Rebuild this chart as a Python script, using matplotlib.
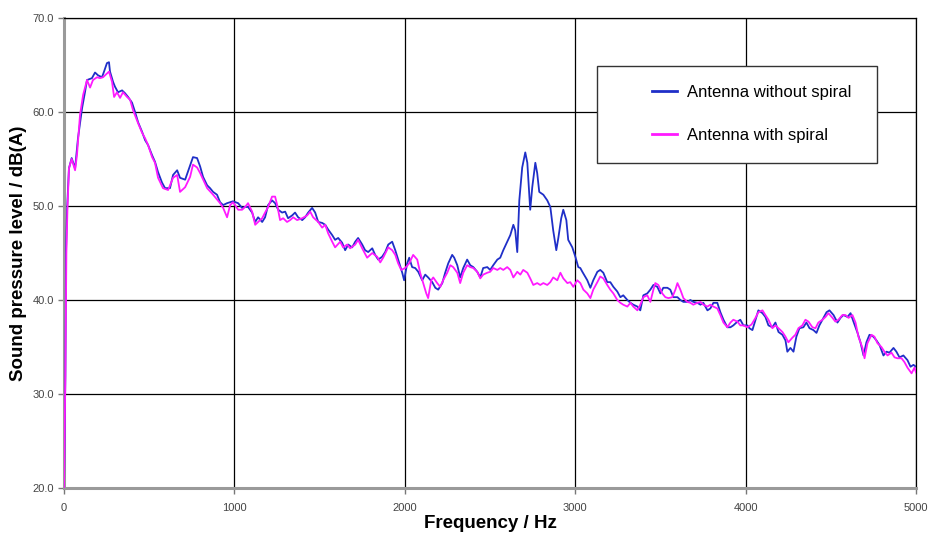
import matplotlib
matplotlib.use("Agg")
import matplotlib.pyplot as plt
from matplotlib.patches import Rectangle
from matplotlib.lines import Line2D

plt.rcParams['font.family'] = ['Liberation Sans', 'DejaVu Sans']

# Measured spectra: frequency (Hz) and A-weighted sound pressure level (dB(A))
freq_without = [
    0, 8, 12, 18, 29, 45, 65, 82, 106, 123, 135, 164, 182, 200, 223, 235, 252, 264, 270, 288,
    299, 317, 341, 358, 376, 399, 417, 435, 458, 476, 493, 517, 534, 552, 575, 593, 622, 640, 664, 681,
    711, 734, 757, 781, 799, 816, 840, 857, 875, 898, 916, 934, 957, 975, 992, 1022, 1045, 1063, 1080, 1104,
    1122, 1139, 1163, 1180, 1198, 1221, 1239, 1257, 1280, 1298, 1315, 1339, 1356, 1374, 1398, 1415, 1433, 1456, 1474, 1492,
    1515, 1533, 1550, 1574, 1591, 1609, 1632, 1650, 1668, 1691, 1709, 1726, 1750, 1767, 1785, 1809, 1826, 1844, 1867, 1885,
    1903, 1926, 1944, 1961, 1985, 1996, 2014, 2026, 2043, 2061, 2079, 2102, 2120, 2137, 2161, 2179, 2196, 2220, 2237, 2255,
    2278, 2290, 2308, 2325, 2343, 2366, 2384, 2402, 2425, 2443, 2460, 2484, 2501, 2519, 2543, 2560, 2578, 2601, 2619, 2637,
    2648, 2660, 2672, 2689, 2707, 2719, 2736, 2748, 2766, 2777, 2789, 2813, 2836, 2854, 2871, 2889, 2901, 2918, 2930, 2948,
    2959, 2983, 3001, 3018, 3030, 3042, 3071, 3089, 3106, 3130, 3147, 3165, 3188, 3206, 3224, 3247, 3265, 3282, 3306, 3324,
    3341, 3365, 3382, 3400, 3423, 3441, 3459, 3482, 3500, 3517, 3541, 3558, 3576, 3600, 3617, 3635, 3658, 3676, 3693, 3717,
    3735, 3752, 3776, 3793, 3811, 3834, 3852, 3870, 3893, 3911, 3928, 3952, 3969, 3987, 4011, 4022, 4040, 4058, 4075, 4099,
    4116, 4134, 4157, 4175, 4193, 4216, 4234, 4245, 4263, 4281, 4298, 4316, 4339, 4357, 4375, 4398, 4416, 4433, 4457, 4475,
    4492, 4516, 4539, 4557, 4574, 4598, 4616, 4633, 4657, 4674, 4692, 4709, 4727, 4750, 4768, 4786, 4809, 4827, 4844, 4868,
    4885, 4903, 4926, 4950, 4968, 4985, 5000,
]
level_without = [
    20.0, 31.9, 45.3, 49.6, 54.0, 55.1, 54.0, 57.2, 60.4, 62.1, 63.4, 63.6, 64.2, 63.9, 63.7, 64.3, 65.2, 65.3, 64.3, 63.2,
    62.7, 62.1, 62.3, 62.0, 61.6, 61.0, 60.0, 58.9, 57.9, 57.0, 56.5, 55.4, 54.7, 53.6, 52.5, 51.9, 51.9, 53.3, 53.8, 53.0,
    52.8, 54.0, 55.2, 55.1, 54.2, 53.1, 52.2, 51.9, 51.5, 51.2, 50.4, 50.1, 50.3, 50.4, 50.5, 50.3, 49.8, 49.9, 49.9, 49.3,
    48.3, 48.8, 48.3, 48.8, 50.1, 50.6, 50.3, 49.6, 49.3, 49.4, 48.7, 49.0, 49.3, 48.8, 48.5, 48.8, 49.3, 49.8, 49.3, 48.3,
    48.2, 48.0, 47.5, 46.9, 46.4, 46.6, 46.1, 45.3, 45.9, 45.6, 46.2, 46.6, 45.9, 45.3, 45.1, 45.5, 44.8, 44.3, 44.6, 45.1,
    45.9, 46.2, 45.3, 44.3, 42.9, 42.1, 43.9, 44.5, 43.5, 43.4, 43.0, 42.1, 42.7, 42.4, 41.9, 41.3, 41.1, 41.8, 42.9, 43.9,
    44.8, 44.5, 43.7, 42.4, 43.4, 44.3, 43.7, 43.5, 43.0, 42.4, 43.4, 43.5, 43.2, 43.7, 44.3, 44.5, 45.3, 46.2, 46.9, 48.0,
    47.4, 45.1, 50.6, 54.1, 55.7, 54.6, 49.6, 52.0, 54.6, 53.5, 51.5, 51.2, 50.6, 49.9, 47.4, 45.3, 46.6, 48.7, 49.6, 48.5,
    46.4, 45.6, 44.6, 43.5, 43.4, 43.0, 42.1, 41.3, 42.1, 43.0, 43.2, 42.9, 41.9, 41.9, 41.4, 40.9, 40.3, 40.5, 40.0, 39.7,
    39.5, 39.3, 38.9, 40.5, 40.7, 41.1, 41.6, 41.4, 40.7, 41.3, 41.3, 41.1, 40.3, 40.3, 40.0, 39.8, 39.8, 40.0, 39.8, 39.7,
    39.5, 39.7, 38.9, 39.1, 39.7, 39.7, 38.7, 37.9, 37.1, 37.1, 37.3, 37.7, 37.9, 37.3, 37.3, 37.0, 36.8, 37.9, 38.9, 38.6,
    38.2, 37.3, 37.1, 37.6, 36.6, 36.3, 35.7, 34.5, 34.9, 34.5, 36.1, 37.0, 37.1, 37.6, 37.0, 36.8, 36.5, 37.3, 38.1, 38.7,
    38.9, 38.4, 37.6, 38.1, 38.4, 38.2, 38.6, 37.7, 36.5, 35.5, 34.1, 35.5, 36.3, 36.1, 35.7, 35.2, 34.1, 34.5, 34.4, 34.9,
    34.5, 33.9, 34.1, 33.6, 32.9, 33.1, 32.9,
]

freq_with = [
    0, 8, 14, 20, 29, 45, 65, 76, 94, 112, 135, 153, 170, 194, 211, 229, 252, 264, 282, 294,
    311, 329, 346, 370, 388, 405, 435, 458, 476, 493, 517, 534, 552, 581, 611, 640, 664, 681, 711, 740,
    757, 781, 799, 840, 875, 916, 934, 957, 975, 992, 1004, 1022, 1045, 1063, 1080, 1104, 1122, 1139, 1163, 1180,
    1198, 1221, 1239, 1251, 1268, 1286, 1309, 1327, 1345, 1368, 1398, 1427, 1445, 1462, 1492, 1515, 1533, 1550, 1574, 1591,
    1621, 1638, 1662, 1679, 1709, 1726, 1750, 1779, 1809, 1838, 1856, 1873, 1903, 1926, 1944, 1961, 1979, 2002, 2026, 2049,
    2073, 2090, 2108, 2126, 2137, 2155, 2167, 2190, 2208, 2225, 2249, 2267, 2284, 2308, 2325, 2343, 2366, 2384, 2402, 2425,
    2443, 2460, 2484, 2501, 2519, 2543, 2560, 2578, 2601, 2619, 2637, 2660, 2678, 2695, 2719, 2736, 2754, 2777, 2795, 2813,
    2836, 2854, 2871, 2895, 2913, 2930, 2954, 2971, 2989, 3012, 3030, 3048, 3071, 3089, 3106, 3130, 3147, 3165, 3188, 3206,
    3224, 3247, 3265, 3282, 3306, 3324, 3341, 3365, 3382, 3400, 3423, 3441, 3459, 3470, 3488, 3511, 3529, 3547, 3570, 3588,
    3600, 3617, 3635, 3658, 3676, 3693, 3717, 3735, 3752, 3776, 3793, 3811, 3834, 3852, 3870, 3893, 3911, 3928, 3952, 3969,
    3987, 4011, 4035, 4058, 4075, 4099, 4116, 4134, 4157, 4175, 4193, 4216, 4234, 4251, 4275, 4292, 4310, 4333, 4351, 4369,
    4392, 4410, 4427, 4451, 4469, 4486, 4510, 4527, 4545, 4568, 4586, 4604, 4627, 4645, 4662, 4686, 4698, 4715, 4739, 4756,
    4774, 4797, 4815, 4833, 4856, 4874, 4891, 4915, 4932, 4950, 4974, 4991, 5000,
]
level_with = [
    20.0, 32.0, 45.0, 49.5, 54.0, 55.0, 53.8, 55.4, 59.7, 61.8, 63.4, 62.6, 63.4, 63.7, 63.6, 63.7, 64.1, 64.3, 63.2, 61.6,
    62.1, 61.5, 62.1, 61.6, 61.3, 60.2, 58.8, 57.8, 57.2, 56.5, 55.2, 54.6, 53.0, 51.9, 51.7, 53.0, 53.3, 51.5, 52.0, 53.1,
    54.4, 54.1, 53.5, 51.9, 51.2, 50.3, 49.8, 48.8, 50.1, 50.4, 50.1, 49.6, 49.6, 49.9, 50.3, 49.4, 48.0, 48.3, 48.7, 49.3,
    49.9, 51.0, 51.0, 50.1, 48.5, 48.7, 48.3, 48.5, 48.8, 48.5, 48.7, 49.0, 49.4, 48.8, 48.3, 47.7, 48.0, 47.1, 46.2, 45.6,
    46.2, 45.6, 45.9, 45.5, 45.9, 46.4, 45.5, 44.5, 45.0, 44.6, 44.0, 44.5, 45.6, 45.3, 44.8, 43.9, 43.2, 43.4, 43.9, 44.8,
    44.3, 42.9, 41.8, 40.7, 40.2, 42.1, 42.4, 41.8, 41.4, 42.1, 42.9, 43.7, 43.5, 42.9, 41.8, 42.9, 43.7, 43.5, 43.4, 43.0,
    42.3, 42.7, 42.9, 43.0, 43.4, 43.2, 43.4, 43.2, 43.5, 43.2, 42.4, 43.0, 42.7, 43.2, 42.9, 42.3, 41.6, 41.8, 41.6, 41.8,
    41.6, 41.9, 42.4, 42.1, 42.9, 42.3, 41.8, 41.9, 41.4, 42.1, 41.8, 41.1, 40.7, 40.2, 41.1, 41.9, 42.5, 42.3, 41.6, 41.1,
    40.7, 40.0, 39.7, 39.5, 39.3, 39.7, 39.3, 38.9, 39.5, 40.3, 40.5, 39.8, 41.1, 41.8, 41.6, 40.7, 40.3, 40.2, 40.3, 41.1,
    41.8, 41.1, 40.2, 39.8, 39.7, 39.5, 39.7, 39.8, 39.5, 39.3, 39.5, 39.3, 39.1, 38.4, 37.6, 37.1, 37.6, 37.9, 37.7, 37.3,
    37.3, 37.1, 37.4, 38.1, 38.7, 38.9, 38.4, 37.9, 37.0, 37.3, 37.0, 36.6, 36.1, 35.5, 36.0, 36.3, 37.0, 37.3, 37.9, 37.7,
    37.1, 37.0, 37.6, 37.9, 38.2, 38.6, 38.1, 37.7, 37.9, 38.4, 38.4, 38.1, 38.4, 37.6, 36.1, 34.9, 33.8, 35.4, 36.3, 36.1,
    35.4, 35.0, 34.5, 34.1, 34.4, 33.9, 33.8, 33.8, 33.4, 32.8, 32.2, 32.8, 32.3,
]

series_labels = ["Antenna without spiral", "Antenna with spiral"]
series_colors = ["#1f2fc8", "#ff1aff"]
x_ticks = [0, 1000, 2000, 3000, 4000, 5000]
y_ticks = [20, 30, 40, 50, 60, 70]

fig = plt.figure(figsize=(9.29, 5.34), dpi=100)
ax = fig.add_axes([64 / 929, 46 / 534, 852 / 929, 470 / 534])

ax.plot(freq_without, level_without, color=series_colors[0], lw=1.3, zorder=3)
ax.plot(freq_with, level_with, color=series_colors[1], lw=1.3, zorder=4)

ax.set_xlim(0, 5000)
ax.set_ylim(20, 70)
ax.set_xticks(x_ticks)
ax.set_yticks(y_ticks)
ax.set_xticklabels([str(v) for v in x_ticks])
ax.set_yticklabels([f"{v:.1f}" for v in y_ticks])
ax.grid(True, color="black", lw=0.9, zorder=1)
ax.set_axisbelow(True)

for side in ("left", "bottom"):
    ax.spines[side].set_color("#9a9a9a")
    ax.spines[side].set_linewidth(2.2)
for side in ("top", "right"):
    ax.spines[side].set_color("black")
    ax.spines[side].set_linewidth(0.9)

ax.tick_params(axis="both", direction="out", length=4, width=1, color="#777777",
               labelsize=8, labelcolor="#444444", pad=3)
ax.tick_params(axis="x", pad=7)

ax.set_xlabel("Frequency / Hz", fontsize=13.5, fontweight="bold", labelpad=1)
ax.set_ylabel("Sound pressure level / dB(A)", fontsize=13.5, fontweight="bold", labelpad=4)

# Legend box with generous padding
box = Rectangle((533 / 852, (488 - 163) / 470), (877 - 597) / 852, 97 / 470,
                transform=ax.transAxes, facecolor="white", edgecolor="#333333",
                lw=1.0, zorder=5)
ax.add_patch(box)
handles = [Line2D([], [], color=c, lw=2) for c in series_colors]
leg = ax.legend(handles, series_labels, loc="upper left",
                bbox_to_anchor=((645 - 64) / 852, (488 - 78) / 470),
                frameon=False, fontsize=12, handlelength=1.5, handletextpad=0.6,
                labelspacing=1.68, borderaxespad=0)
leg.set_zorder(6)

fig.savefig("out.png", dpi=100)
